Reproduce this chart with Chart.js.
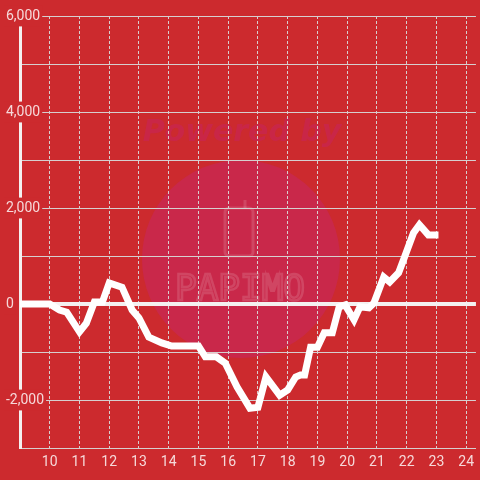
<!DOCTYPE html>
<html lang="en">
<head>
    <meta charset="UTF-8">
    <title>Intraday P/L</title>
    <script src="https://cdn.jsdelivr.net/npm/chart.js"></script>
    <style>
        body {
            margin: 0;
            padding: 0;
            background-color: #cc2a2e;
        }
        #chart {
            display: block;
        }
    </style>
</head>
<body>
    <canvas id="chart" width="480" height="480"></canvas>

    <script>
        // hours of the day (x) and running value (y)
        const hours = [
            9.0, 10.0, 10.33, 10.57, 11.0, 11.23, 11.5, 11.77, 12.0, 12.43,
            12.77, 13.0, 13.33, 13.77, 14.1, 15.0, 15.23, 15.6, 15.9, 16.3,
            16.73, 17.0, 17.27, 17.73, 18.0, 18.27, 18.43, 18.57, 18.77, 19.0,
            19.23, 19.5, 19.73, 19.93, 20.23, 20.43, 20.73, 20.9, 21.23, 21.43,
            21.73, 21.93, 22.23, 22.43, 22.73, 23.07
        ];
        const values = [
            0, 0, -125, -170, -580, -400, 40, 40, 440, 350,
            -125, -290, -690, -810, -875, -875, -1100, -1100, -1230, -1730,
            -2170, -2150, -1520, -1900, -1790, -1520, -1480, -1480, -900, -900,
            -600, -600, -60, -20, -330, -60, -80, 20, 560, 460,
            650, 980, 1480, 1650, 1440, 1440
        ];
        const xTicks = [9, 10, 11, 12, 13, 14, 15, 16, 17, 18, 19, 20, 21, 22, 23, 24];
        const yTicks = [-3000, -2000, -1000, 0, 1000, 2000, 3000, 4000, 5000, 6000];

        const bg = '#cc2a2e';
        const labelColor = 'rgba(255, 255, 255, 0.82)';
        const gridColor = '#d6cfcf';

        const points = hours.map((h, i) => ({ x: h, y: values[i] }));

        // faint "Powered by PAPIMO" watermark behind the grid
        const watermark = {
            id: 'watermark',
            beforeDraw(chart) {
                const c = chart.ctx;
                c.save();
                c.fillStyle = bg;
                c.fillRect(0, 0, chart.width, chart.height);

                c.fillStyle = '#c9284a';
                c.beginPath();
                c.arc(241, 259, 99, 0, Math.PI * 2);
                c.fill();

                c.fillStyle = 'rgba(200, 38, 80, 0.75)';
                c.font = 'italic bold 30px "DejaVu Sans"';
                c.textAlign = 'center';
                c.textBaseline = 'middle';
                c.fillText('Powered by', 242, 133);

                c.strokeStyle = 'rgba(255, 255, 255, 0.14)';
                c.lineWidth = 3;
                c.beginPath();
                c.roundRect(225, 208, 28, 48, 4);
                c.stroke();
                c.beginPath();
                c.moveTo(245, 208);
                c.lineTo(245, 200);
                c.stroke();

                c.lineWidth = 2.5;
                c.font = '36px "DejaVu Sans Mono"';
                c.strokeText('PAPIMO', 240, 291);
                c.restore();
            }
        };

        const ctx = document.getElementById('chart').getContext('2d');

        const chart = new Chart(ctx, {
            type: 'line',
            data: {
                datasets: [
                    {
                        data: points,
                        borderColor: '#ffffff',
                        borderWidth: 7,
                        pointRadius: 0,
                        tension: 0,
                        fill: false,
                    },
                ],
            },
            options: {
                responsive: false,
                animation: false,
                layout: {
                    padding: { top: 16, right: 0, bottom: 0, left: 0 },
                },
                plugins: {
                    legend: { display: false },
                    tooltip: { enabled: false },
                },
                scales: {
                    x: {
                        type: 'linear',
                        min: 9,
                        max: 24.33,
                        afterBuildTicks: (scale) => {
                            scale.ticks = xTicks.map(v => ({ value: v }));
                        },
                        afterFit: (scale) => {
                            scale.height = 32;
                        },
                        grid: {
                            drawTicks: false,
                            color: (c) => c.tick && c.tick.value === 9 ? 'rgba(0,0,0,0)' : gridColor,
                            lineWidth: 1,
                        },
                        border: {
                            color: gridColor,
                            width: 1,
                            dash: [3, 2],
                        },
                        ticks: {
                            padding: 6,
                            color: labelColor,
                            font: { family: 'Roboto', size: 14 },
                            callback: (v) => v === 9 ? '' : String(v),
                        },
                    },
                    y: {
                        min: -3000,
                        max: 6000,
                        afterBuildTicks: (scale) => {
                            scale.ticks = yTicks.map(v => ({ value: v }));
                        },
                        afterFit: (scale) => {
                            scale.width = 20;
                        },
                        border: {
                            color: '#f4f0f0',
                            width: 3,
                        },
                        grid: {
                            drawTicks: false,
                            color: (c) => c.tick && c.tick.value === 0 ? '#f4f0f0' : gridColor,
                            lineWidth: (c) => c.tick && c.tick.value === 0 ? 4 : 1,
                        },
                        ticks: {
                            mirror: true,
                            padding: -14,
                            color: labelColor,
                            font: { family: 'Roboto', size: 14 },
                            showLabelBackdrop: true,
                            backdropColor: (c) => c.tick && c.tick.value % 2000 === 0 ? bg : 'rgba(0,0,0,0)',
                            backdropPadding: 2,
                            callback: (v) => v % 2000 === 0 ? v.toLocaleString('en-US') : '',
                        },
                    },
                },
            },
            plugins: [watermark],
        });
    </script>
</body>
</html>
